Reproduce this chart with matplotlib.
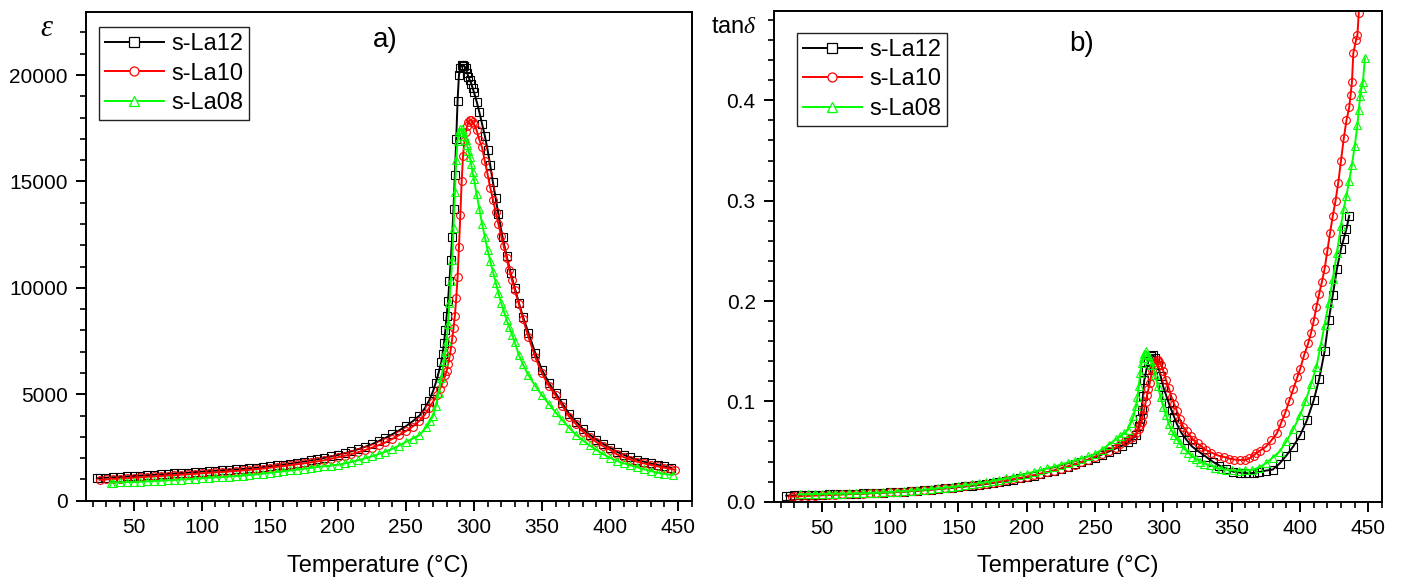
import matplotlib
matplotlib.use('Agg')
import matplotlib.pyplot as plt
from matplotlib.ticker import MultipleLocator
from matplotlib.lines import Line2D

# ---------------- data: panel a) permittivity ----------------
T_a_La12 = [23, 25, 30, 35, 40, 45, 50, 55, 60, 65, 70, 75, 80, 85, 90, 95, 100, 105, 110, 115,
            120, 125, 130, 135, 140, 145, 150, 155, 160, 165, 170, 175, 180, 185, 190, 195, 200,
            205, 210, 215, 220, 225, 230, 235, 240, 245, 250, 255, 260, 264, 267, 270, 272, 274,
            276, 277, 278, 279, 280, 281, 282, 283, 284, 285, 286, 287, 288, 289, 290, 291, 292,
            293, 294, 295, 296, 297, 298, 299, 300, 302, 304, 306, 308, 310, 312, 314, 316, 318,
            321, 324, 327, 330, 333, 336, 340, 345, 350, 355, 360, 365, 370, 375, 380, 385, 390,
            395, 400, 405, 410, 415, 420, 425, 430, 435, 440, 445]
eps_La12 = [1050, 1060, 1080, 1100, 1120, 1140, 1160, 1180, 1200, 1220, 1240, 1260, 1280, 1300,
            1320, 1345, 1370, 1390, 1410, 1430, 1450, 1470, 1490, 1520, 1550, 1580, 1620, 1660,
            1700, 1740, 1790, 1840, 1890, 1950, 2010, 2080, 2150, 2230, 2320, 2420, 2530, 2650,
            2800, 2950, 3120, 3300, 3500, 3730, 4000, 4350, 4700, 5150, 5550, 6000, 6500, 6900,
            7400, 8000, 8700, 9400, 10300, 11300, 12400, 13700, 15300, 17000, 18800, 20000, 20350,
            20450, 20450, 20400, 20350, 20100, 19900, 19750, 19600, 19400, 19200, 18750, 18250,
            17700, 17150, 16500, 15750, 14950, 14200, 13450, 12400, 11500, 10700, 10000, 9300,
            8650, 7900, 6950, 6150, 5550, 5050, 4570, 4080, 3720, 3380, 3100, 2870, 2670, 2490,
            2300, 2160, 2030, 1920, 1830, 1750, 1680, 1610, 1550]

T_a_La10 = [25, 30, 35, 40, 45, 50, 55, 60, 65, 70, 75, 80, 85, 90, 95, 100, 105, 110, 115, 120,
            125, 130, 135, 140, 145, 150, 155, 160, 165, 170, 175, 180, 185, 190, 195, 200, 205,
            210, 215, 220, 225, 230, 235, 240, 245, 250, 255, 260, 264, 267, 270, 273, 275, 277,
            279, 280, 281, 282, 283, 284, 285, 286, 287, 288, 289, 290, 291, 292, 293, 294, 295,
            296, 297, 298, 299, 300, 302, 304, 306, 308, 310, 312, 314, 316, 318, 320, 322, 324,
            326, 328, 330, 333, 336, 340, 345, 350, 355, 360, 365, 370, 375, 380, 385, 390, 395,
            400, 405, 410, 415, 420, 425, 430, 435, 440, 445, 448]
eps_La10 = [980, 1000, 1020, 1040, 1060, 1080, 1100, 1120, 1140, 1160, 1180, 1200, 1220, 1240,
            1260, 1290, 1310, 1330, 1350, 1370, 1395, 1420, 1450, 1480, 1510, 1550, 1590, 1630,
            1670, 1710, 1750, 1800, 1850, 1900, 1970, 2040, 2110, 2190, 2280, 2380, 2490, 2610,
            2740, 2900, 3080, 3270, 3480, 3760, 4050, 4350, 4650, 4980, 5250, 5550, 5900, 6100,
            6400, 6750, 7100, 7600, 8100, 8700, 9500, 10500, 11900, 13400, 15000, 16200, 16900,
            17300, 17600, 17800, 17880, 17880, 17800, 17700, 17400, 16950, 16600, 15950, 15350,
            14700, 14150, 13550, 13000, 12450, 11950, 11400, 10850, 10350, 9900, 9250, 8550, 7700,
            6750, 5980, 5400, 4950, 4450, 3950, 3600, 3250, 2980, 2750, 2560, 2390, 2180, 2050,
            1930, 1830, 1750, 1680, 1610, 1550, 1490, 1440]

T_a_La08 = [33, 35, 40, 45, 50, 55, 60, 65, 70, 75, 80, 85, 90, 95, 100, 105, 110, 115, 120, 125,
            130, 135, 140, 145, 150, 155, 160, 165, 170, 175, 180, 185, 190, 195, 200, 205, 210,
            215, 220, 225, 230, 235, 240, 245, 250, 255, 260, 265, 268, 270, 272, 274, 276, 278,
            279, 280, 281, 282, 283, 284, 285, 286, 287, 288, 289, 290, 291, 292, 293, 294, 295,
            296, 297, 298, 299, 300, 302, 304, 306, 308, 310, 312, 314, 316, 318, 320, 322, 324,
            326, 328, 330, 333, 336, 340, 345, 350, 355, 360, 365, 370, 375, 380, 385, 390, 395,
            400, 405, 410, 415, 420, 425, 430, 435, 440, 446]
eps_La08 = [850, 855, 865, 875, 885, 895, 910, 925, 940, 955, 975, 995, 1015, 1035, 1055, 1075,
            1095, 1115, 1135, 1155, 1180, 1210, 1240, 1275, 1310, 1345, 1380, 1420, 1460, 1500,
            1540, 1580, 1620, 1650, 1690, 1750, 1820, 1900, 1990, 2090, 2190, 2300, 2440, 2590,
            2760, 2920, 3080, 3450, 3750, 4000, 4450, 5050, 5750, 6550, 7000, 7500, 8300, 9300,
            10300, 11300, 12800, 14500, 16000, 16900, 17300, 17450, 17450, 17300, 17150, 16950,
            16700, 16450, 16150, 15800, 15450, 15100, 14400, 13700, 13000, 12400, 11800, 11250,
            10750, 10250, 9750, 9300, 8900, 8500, 8150, 7800, 7450, 6850, 6400, 5900, 5400, 4950,
            4550, 4150, 3780, 3420, 3100, 2830, 2600, 2380, 2180, 2020, 1870, 1760, 1660, 1570,
            1480, 1390, 1320, 1260, 1200]

# ---------------- data: panel b) loss tangent ----------------
T_b_La12 = [24, 27, 30, 35, 40, 45, 50, 55, 60, 65, 70, 75, 80, 85, 90, 95, 100, 105, 110, 115,
            120, 125, 130, 135, 140, 145, 150, 155, 160, 165, 170, 175, 180, 185, 190, 195, 200,
            205, 210, 215, 220, 225, 230, 235, 240, 245, 250, 255, 260, 265, 270, 274, 277, 280,
            282, 283, 284, 285, 286, 287.5, 289, 291, 292.5, 294, 296, 298, 300, 302, 304, 306,
            308, 310, 313, 317, 321, 326, 331, 336, 341, 346, 351, 356, 360, 363, 366, 370, 375,
            380, 385, 390, 395, 400, 405, 410, 414, 418, 421, 424, 427, 430, 432, 434, 436]
tan_La12 = [0.006, 0.006, 0.0062, 0.0064, 0.0066, 0.0068, 0.007, 0.0072, 0.0074, 0.0076, 0.0078,
            0.008, 0.0083, 0.0085, 0.0088, 0.0091, 0.0094, 0.0097, 0.0101, 0.0105, 0.011, 0.0115,
            0.012, 0.0126, 0.0132, 0.0138, 0.0145, 0.0152, 0.016, 0.0168, 0.0177, 0.0187, 0.0197,
            0.0208, 0.022, 0.0232, 0.0245, 0.026, 0.0275, 0.0292, 0.031, 0.033, 0.035, 0.0372,
            0.0395, 0.0418, 0.044, 0.047, 0.05, 0.053, 0.056, 0.059, 0.062, 0.066, 0.075, 0.082,
            0.091, 0.105, 0.121, 0.131, 0.14, 0.145, 0.146, 0.143, 0.136, 0.125, 0.114, 0.106,
            0.098, 0.091, 0.084, 0.077, 0.069, 0.0615, 0.055, 0.0498, 0.045, 0.04, 0.036, 0.033,
            0.03, 0.029, 0.0285, 0.0283, 0.0287, 0.0295, 0.031, 0.032, 0.038, 0.046, 0.055, 0.066,
            0.081, 0.101, 0.122, 0.15, 0.181, 0.206, 0.232, 0.252, 0.262, 0.272, 0.285]

T_b_La10 = [28, 30, 35, 40, 45, 50, 55, 60, 65, 70, 75, 80, 85, 90, 95, 100, 105, 110, 115, 120,
            125, 130, 135, 140, 145, 150, 155, 160, 165, 170, 175, 180, 185, 190, 195, 200, 205,
            210, 215, 220, 225, 230, 235, 240, 245, 250, 255, 260, 265, 268, 272, 275, 278, 280,
            282, 283, 284, 285, 286, 287, 288, 289, 290, 291, 292, 293, 294, 295, 296, 297, 298.5,
            300, 302, 304, 306, 308, 310, 312, 314.5, 317, 320, 322, 325, 328, 331, 335, 340, 344,
            348, 352, 356, 360, 363, 366, 368, 371, 375, 379, 383, 386, 389, 392, 395, 398, 400,
            403, 406, 408, 410, 412, 414, 416, 418, 420, 422, 424, 426, 428, 430, 432, 434, 436,
            437, 438, 439, 441, 442, 443]
tan_La10 = [0.005, 0.0052, 0.0055, 0.0058, 0.0061, 0.0064, 0.0067, 0.007, 0.0072, 0.0075, 0.0078,
            0.008, 0.0083, 0.0086, 0.009, 0.0093, 0.0097, 0.01, 0.0105, 0.011, 0.0115, 0.012,
            0.0126, 0.0133, 0.014, 0.0147, 0.0155, 0.0163, 0.0171, 0.018, 0.019, 0.02, 0.0212,
            0.0225, 0.0237, 0.025, 0.0265, 0.028, 0.0295, 0.031, 0.033, 0.035, 0.037, 0.0395,
            0.042, 0.045, 0.048, 0.051, 0.054, 0.0575, 0.06, 0.0625, 0.0648, 0.068, 0.072, 0.076,
            0.0797, 0.086, 0.092, 0.099, 0.106, 0.112, 0.118, 0.125, 0.131, 0.136, 0.139, 0.141,
            0.141, 0.139, 0.136, 0.13, 0.121, 0.113, 0.104, 0.097, 0.09, 0.082, 0.0747, 0.07,
            0.065, 0.0615, 0.058, 0.055, 0.0515, 0.049, 0.046, 0.0448, 0.043, 0.042, 0.0416,
            0.0415, 0.0432, 0.046, 0.0482, 0.051, 0.0548, 0.061, 0.068, 0.078, 0.088, 0.1, 0.112,
            0.124, 0.132, 0.146, 0.158, 0.168, 0.18, 0.194, 0.207, 0.219, 0.232, 0.25, 0.268,
            0.285, 0.3, 0.318, 0.34, 0.362, 0.38, 0.393, 0.405, 0.418, 0.447, 0.46, 0.465, 0.487]

T_b_La08 = [34, 40, 45, 50, 55, 60, 65, 70, 75, 80, 85, 90, 95, 100, 105, 110, 115, 120, 125, 130,
            135, 140, 145, 150, 155, 160, 165, 170, 175, 180, 185, 190, 195, 200, 205, 210, 215,
            220, 225, 230, 235, 240, 245, 250, 255, 260, 265, 268, 271, 274, 276, 278, 280, 281,
            282, 283, 284, 285, 286, 287.5, 289, 290.5, 292, 294, 296, 298, 300, 302, 304, 306,
            308, 310, 312, 315, 318, 321, 324, 327, 330, 334, 338, 342, 346, 350, 355, 360, 365,
            370, 375, 380, 385, 390, 395, 400, 404, 408, 412, 415, 418, 421, 424, 427, 430, 432,
            434, 436, 438, 440, 442, 443, 444, 445, 446, 447.5]
tan_La08 = [0.0074, 0.0075, 0.0076, 0.0078, 0.0079, 0.008, 0.0081, 0.0082, 0.0083, 0.0085,
            0.0087, 0.009, 0.0093, 0.0097, 0.0101, 0.0105, 0.011, 0.0115, 0.0121, 0.0127, 0.0133,
            0.014, 0.0147, 0.0155, 0.0163, 0.0172, 0.0183, 0.0195, 0.0207, 0.022, 0.0234, 0.0248,
            0.0264, 0.028, 0.0297, 0.0315, 0.0332, 0.035, 0.037, 0.039, 0.041, 0.043, 0.0452,
            0.0475, 0.052, 0.057, 0.062, 0.065, 0.068, 0.0715, 0.078, 0.085, 0.095, 0.104, 0.115,
            0.128, 0.138, 0.143, 0.147, 0.15, 0.146, 0.141, 0.136, 0.126, 0.115, 0.104, 0.094,
            0.086, 0.077, 0.071, 0.066, 0.062, 0.058, 0.053, 0.049, 0.045, 0.0425, 0.04, 0.038,
            0.0365, 0.034, 0.0328, 0.0318, 0.0313, 0.031, 0.0312, 0.0318, 0.034, 0.0383, 0.044,
            0.05, 0.06, 0.072, 0.086, 0.1, 0.117, 0.1345, 0.155, 0.176, 0.198, 0.222, 0.248, 0.275,
            0.292, 0.305, 0.32, 0.336, 0.354, 0.375, 0.39, 0.404, 0.412, 0.418, 0.442]

labels = ['s-La12', 's-La10', 's-La08']
colors = ['#000000', '#ff0000', '#00ff00']
markers = ['s', 'o', '^']
x_ticks = [50, 100, 150, 200, 250, 300, 350, 400, 450]

# ---------------- figure ----------------
plt.rcParams['font.family'] = ['Liberation Sans', 'DejaVu Sans']
plt.rcParams['mathtext.fontset'] = 'custom'
plt.rcParams['mathtext.rm'] = 'Liberation Sans'
plt.rcParams['mathtext.it'] = 'Liberation Serif:italic'

W, H = 1405, 583
fig = plt.figure(figsize=(W / 100, H / 100), dpi=100)


def px_axes(l, t, r, b):
    return fig.add_axes([l / W, 1 - b / H, (r - l) / W, (b - t) / H])


axa = px_axes(86, 12, 691.7, 500.7)
axb = px_axes(774, 11.3, 1382, 501.7)

data_a = [(T_a_La12, eps_La12), (T_a_La10, eps_La10), (T_a_La08, eps_La08)]
data_b = [(T_b_La12, tan_La12), (T_b_La10, tan_La10), (T_b_La08, tan_La08)]

for ax, data in ((axa, data_a), (axb, data_b)):
    for (x, y), c, m in zip(data, colors, markers):
        ax.plot(x, y, color=c, lw=1.4, marker=m, ms=5.6, mfc='none', mec=c, mew=0.8)
    ax.set_xlim(15, 460)
    ax.set_xticks(x_ticks)
    ax.xaxis.set_minor_locator(MultipleLocator(10))
    for sp in ax.spines.values():
        sp.set_linewidth(1.4)
    ax.tick_params(which='major', direction='out', length=7.2, width=1.4, labelsize=15)
    ax.tick_params(which='minor', direction='out', length=4.3, width=1.2)
    ax.tick_params(axis='x', which='major', pad=5)
    ax.tick_params(axis='y', which='major', pad=6)
    handles = [Line2D([], [], color=c, lw=1.4, marker=m, ms=6.5, mfc='white', mec=c, mew=0.9)
               for c, m in zip(colors, markers)]
    leg_anchor = (0.0215, 0.969) if ax is axa else (0.0378, 0.956)
    leg = ax.legend(handles, labels, loc='upper left', bbox_to_anchor=leg_anchor,
                    borderaxespad=0, fontsize=17, frameon=True, fancybox=False,
                    edgecolor='#222222', framealpha=1, handlelength=2.5, handletextpad=0.3,
                    labelspacing=0.32, borderpad=0.25)
    leg.get_frame().set_linewidth(1.0)

axa.set_ylim(0, 22960)
axa.yaxis.set_major_locator(MultipleLocator(5000))
axa.yaxis.set_minor_locator(MultipleLocator(1000))

axb.set_ylim(0, 0.4887)
axb.yaxis.set_major_locator(MultipleLocator(0.1))
axb.yaxis.set_minor_locator(MultipleLocator(0.02))
axb.yaxis.set_major_formatter(matplotlib.ticker.FormatStrFormatter('%.1f'))

# labels
fig.text(378 / W, 1 - 572 / H, 'Temperature (°C)', ha='center', va='baseline', fontsize=17)
fig.text(1068 / W, 1 - 572 / H, 'Temperature (°C)', ha='center', va='baseline', fontsize=17)
fig.text(46.5 / W, 1 - 28.5 / H, 'ε', family='Liberation Serif', style='italic',
         fontsize=22, ha='center', va='center')
fig.text(734 / W, 1 - 27 / H, r'tan$\delta$', fontsize=17, ha='center', va='center')
fig.text(385 / W, 1 - 40 / H, 'a)', fontsize=20, ha='center', va='center')
fig.text(1082 / W, 1 - 44 / H, 'b)', fontsize=20, ha='center', va='center')

fig.savefig('out.png', dpi=100)
